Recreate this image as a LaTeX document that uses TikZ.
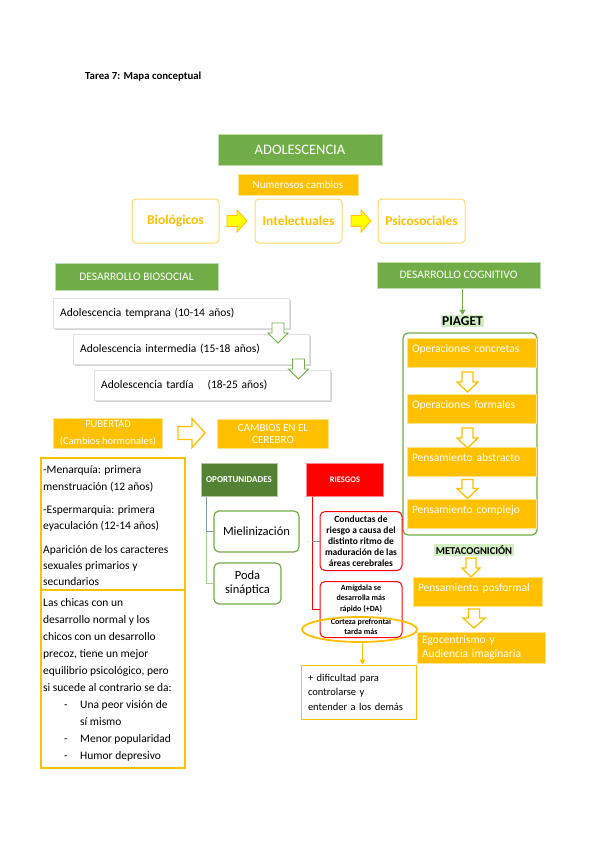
\documentclass[tikz,border=0pt]{standalone}
\usepackage{fontspec}
\setmainfont{Carlito}
\usetikzlibrary{shapes.geometric,shadows,arrows.meta}
\definecolor{cgreen}{HTML}{70AD47}
\definecolor{cdkgreen}{HTML}{548235}
\definecolor{corange}{HTML}{FFC000}
\definecolor{clorange}{HTML}{FFD966}
\definecolor{cred}{HTML}{FF0000}
\definecolor{cblue}{HTML}{8497B0}
\definecolor{clgreen}{HTML}{A9D18E}
\definecolor{chigh}{HTML}{D3EEC2}
\definecolor{cyellow}{HTML}{FFFF00}
\newcommand{\fsz}[2]{\fontsize{#1}{#2}\selectfont}
\newcommand{\blkright}[7]{\draw[#1] ({#2-#4/2},{#3-#6/2}) -- ({#2+#4/2-#7},{#3-#6/2}) -- ({#2+#4/2-#7},{#3-#5/2}) -- ({#2+#4/2},{#3}) -- ({#2+#4/2-#7},{#3+#5/2}) -- ({#2+#4/2-#7},{#3+#6/2}) -- ({#2-#4/2},{#3+#6/2}) -- cycle;}
\newcommand{\blkdown}[7]{\draw[#1] ({#2-#6/2},{#3-#4/2}) -- ({#2+#6/2},{#3-#4/2}) -- ({#2+#6/2},{#3+#4/2-#7}) -- ({#2+#5/2},{#3+#4/2-#7}) -- ({#2},{#3+#4/2}) -- ({#2-#5/2},{#3+#4/2-#7}) -- ({#2-#6/2},{#3+#4/2-#7}) -- cycle;}
\begin{document}
\begin{tikzpicture}[x=1pt,y=-1pt,
  gbox/.style={fill=cgreen, draw=cgreen!45, line width=1pt, text=white, inner sep=0pt, align=center},
  obox/.style={fill=corange, draw=corange!45, line width=1pt, text=white, inner sep=0pt, align=center},
  ylbox/.style={draw=clorange, line width=1pt, rounded corners=4pt, fill=white, text=corange, font=\fsz{13.5}{16}\bfseries, inner sep=0pt},
  agebox/.style={fill=white, draw=black!12, line width=0.4pt, drop shadow={shadow xshift=1.5pt,shadow yshift=-1.5pt,opacity=0.35}, anchor=west, inner xsep=7pt, text width=222pt, minimum height=30pt, font=\fsz{11.5}{13}, align=left},
  pbox/.style={fill=corange, draw=corange!45, line width=0.8pt, text=white, inner xsep=5pt, text width=119pt, align=left, minimum height=29pt, text height=8pt, text depth=9pt, font=\fsz{11.5}{13}},
  yarrow/.style={fill=cyellow, draw=corange, line width=0.8pt},
  oarrow/.style={fill=white, draw=corange, line width=1.3pt},
  garrow/.style={fill=white, draw=cgreen, line width=0.8pt},
  hl/.style={fill=chigh, inner sep=1.5pt},
  gnbox/.style={draw=cgreen, line width=1.2pt, rounded corners=5pt, fill=white, align=center, inner sep=0pt},
  rdbox/.style={draw=cred, line width=1pt, rounded corners=5pt, fill=white, inner sep=0pt, align=center},
  txt/.style={anchor=base west, inner sep=0pt, font=\fsz{11.5}{13}},
]
\useasboundingbox (0,0) rectangle (599,848);
\fill[white] (0,0) rectangle (599,848);

\node[anchor=west, inner sep=0pt, font=\fsz{10.8}{12}\bfseries] (title) at (85,77) {Tarea 7: Mapa conceptual};

% top
\node[gbox, minimum width=164pt, minimum height=31pt, font=\fsz{14.5}{16}] (adol) at (300,149.5) {ADOLESCENCIA};
\node[obox, minimum width=120pt, minimum height=21pt, font=\fsz{11}{13}] (num) at (298,184.5) {Numerosos cambios};
\node[ylbox, minimum width=87pt, minimum height=44pt] (bio) at (175.5,221) {Biológicos};
\node[ylbox, minimum width=87pt, minimum height=44pt] (int) at (298.5,221) {Intelectuales};
\node[ylbox, minimum width=87pt, minimum height=44pt] (psi) at (421.5,221) {Psicosociales};
\blkright{yarrow}{237}{221}{20}{22}{11}{10}
\blkright{yarrow}{361}{221}{20}{22}{11}{10}

% biosocial
\node[gbox, minimum width=163pt, minimum height=27pt, font=\fsz{11.5}{13}] (bios) at (136.5,276.5) {DESARROLLO BIOSOCIAL};
\node[agebox] (age1) at (53,313) {Adolescencia temprana (10-14 años)};
\node[agebox] (age2) at (73,349) {Adolescencia intermedia (15-18 años)};
\node[agebox] (age3) at (94,385) {Adolescencia tardía\hspace{14pt}(18-25 años)};
\blkdown{garrow}{278}{333}{20}{20}{12}{10}
\blkdown{garrow}{298.5}{369}{20}{20}{12}{10}

% cognitivo
\node[gbox, minimum width=163pt, minimum height=26pt, font=\fsz{11.5}{13}] (cog) at (458.5,275) {DESARROLLO COGNITIVO};
\node[hl, font=\fsz{13.5}{15}\bfseries] (piaget) at (462.5,321) {PIAGET};
\draw[cgreen, line width=1pt, -{Triangle[length=5pt,width=6pt]}] (cog.south -| piaget) -- (piaget.north);
\node[draw=cgreen, line width=1.3pt, rounded corners=5pt, minimum width=134pt, minimum height=202pt, inner sep=0pt] (frame) at (470,434) {};
\node[pbox] (op1) at (471.5,353) {Operaciones concretas};
\node[pbox] (op2) at (471.5,409) {Operaciones formales};
\node[pbox] (op3) at (471.5,461.5) {Pensamiento abstracto};
\node[pbox] (op4) at (471.5,513.5) {Pensamiento complejo};
\blkdown{oarrow}{467.5}{382}{20}{21}{11}{10}
\blkdown{oarrow}{467.5}{438}{20}{21}{11}{10}
\blkdown{oarrow}{467.5}{489}{19}{21}{11}{10}
\node[hl, font=\fsz{10.5}{12}\bfseries] (meta) at (474,550) {METACOGNICIÓN};
\blkdown{oarrow}{471}{567.5}{19}{18}{10}{9}
\node[pbox] (posf) at (477.5,592) {Pensamiento posformal};
\blkdown{oarrow}{474}{618.5}{19}{22}{11}{10}
\node[obox, text width=118pt, inner xsep=5pt, align=left, minimum height=31pt, font=\fsz{11.5}{14}] (ego) at (481,647.5) {Egocentrismo y\\Audiencia imaginaria};

% pubertad
\node[obox, minimum width=109pt, minimum height=30pt, font=\fsz{10.5}{17}] (pub) at (108,433) {PUBERTAD\\(Cambios hormonales)};
\blkright{oarrow}{191.5}{433}{27}{29}{13}{13}
\node[obox, minimum width=111pt, minimum height=29pt, font=\fsz{11}{12.5}] (camb) at (273,434) {CAMBIOS EN EL\\CEREBRO};

% left boxes
\node[draw=corange, line width=1.2pt, fill=white, minimum width=144pt, minimum height=132pt, inner sep=0pt] (lb1) at (113,524) {};
\node[draw=corange, line width=1.2pt, fill=white, minimum width=144pt, minimum height=178pt, inner sep=0pt] (lb2) at (113,679) {};
\foreach \yb/\tx [count=\i] in {473/{-Menarquía: primera}, 490/{menstruación (12 años)}, 513.5/{-Espermarquia: primera}, 529/{eyaculación (12-14 años)}, 553.5/{Aparición de los caracteres}, 569.5/{sexuales primarios y}, 585.5/{secundarios}}
  \node[txt] (pa\i) at (43,\yb) {\tx};
\foreach \yb/\tx [count=\i] in {606.5/{Las chicas con un}, 623.5/{desarrollo normal y los}, 640.5/{chicos con un desarrollo}, 657.5/{precoz, tiene un mejor}, 674.5/{equilibrio psicológico, pero}, 691.5/{si sucede al contrario se da:}}
  \node[txt] (pb\i) at (43,\yb) {\tx};
\foreach \yb/\tx [count=\i] in {708.5/{Una peor visión de}, 742/{Menor popularidad}, 759/{Humor depresivo}}
  {\node[txt] (dash\i) at (64,\yb) {-};
   \node[txt] (pc\i) at (80,\yb) {\tx};}
\node[txt] (pc4) at (80,725) {sí mismo};

% cerebro
\node[fill=cdkgreen, draw=cdkgreen!45, line width=1pt, text=white, minimum width=76pt, minimum height=33pt, inner sep=0pt, font=\fsz{9}{10}\bfseries] (opor) at (239,479.5) {OPORTUNIDADES};
\node[fill=cred, draw=cred!45, line width=1pt, text=white, minimum width=77pt, minimum height=33pt, inner sep=0pt, font=\fsz{8.5}{10}\bfseries] (ries) at (345,479.5) {RIESGOS};
\node[gnbox, minimum width=85pt, minimum height=41pt, font=\fsz{12.5}{14}] (miel) at (256.5,531.5) {Mielinización};
\node[gnbox, minimum width=67pt, minimum height=41pt, font=\fsz{12.5}{14}] (poda) at (247.5,583.5) {Poda\\sináptica};
\coordinate (ojoin) at (206,531.5);
\draw[cblue, line width=1pt] (opor.south -| ojoin) -- (ojoin) -- (miel.west);
\draw[clgreen, line width=1pt] (ojoin) |- (poda.west);

\node[rdbox, minimum width=82pt, minimum height=59pt, font=\fsz{9.5}{11}\bfseries] (cond) at (361,541) {Conductas de\\riesgo a causa del\\distinto ritmo de\\maduración de las\\áreas cerebrales};
\node[rdbox, minimum width=82pt, minimum height=56pt, font=\fsz{8}{10.5}\bfseries] (amig) at (361,609.5) {Amígdala se\\desarrolla más\\rápido (+DA)\\[2.5pt]Corteza prefrontal\\tarda más};
\coordinate (rjoin) at (312,541);
\draw[cred, line width=1pt] (ries.south -| rjoin) |- (amig.west);
\draw[cblue, line width=1pt] (rjoin) -- (cond.west);
\node[draw=corange, line width=1.8pt, ellipse, minimum width=115pt, minimum height=25pt, inner sep=0pt] (ell) at (359.5,629.5) {};
\node[draw=corange, line width=1pt, fill=white, text width=101pt, inner xsep=7pt, minimum height=54pt, align=left, font=\fsz{10.5}{14.5}] (dif) at (358.5,692) {+ dificultad para\\controlarse y\\entender a los demás};
\draw[corange, line width=1pt, -{Triangle[length=5pt,width=6pt]}] ([xshift=3pt]ell.south) -- ([xshift=3pt]ell.south |- dif.north);
\end{tikzpicture}
\end{document}
